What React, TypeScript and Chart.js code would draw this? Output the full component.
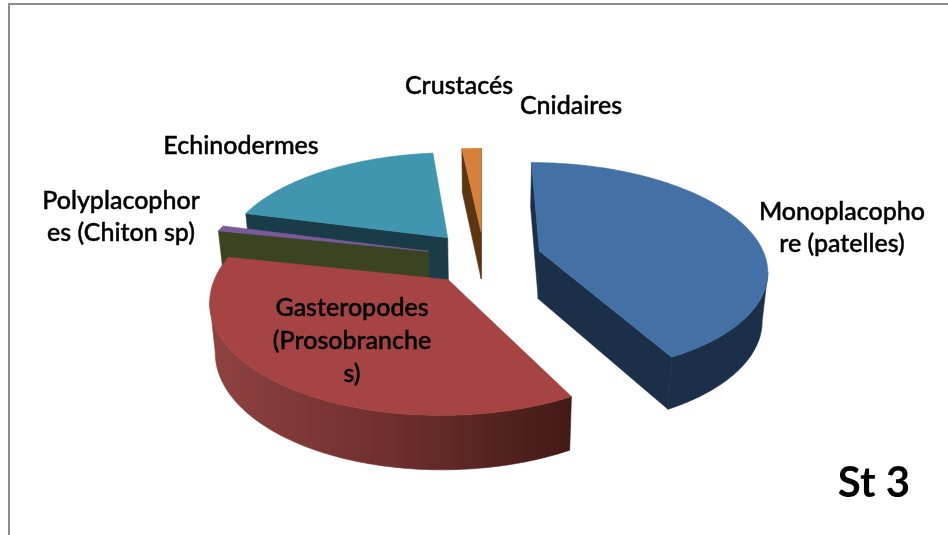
import React, { useEffect, useRef } from "react";
import { Chart, registerables } from "chart.js";

Chart.register(...registerables);

const categories = ["Monoplacophore (patelles)", "Gasteropodes (Prosobranches)", "Polyplacophores (Chiton sp)", "Echinodermes", "Crustacés", "Cnidaires"];
const values = [42.2, 36.1, 0.83, 19.2, 1.67, 0];
const topColors = ["#4371a5", "#a54442", "#7b5a9c", "#3f96ae", "#d6813b", "#d6813b"];
const wallColors = ["#1b2f48", "#a54442", "#3a4420", "#1a3b48", "#5c3613", "#5c3613"];
const labelLines = [
  ["Monoplacopho", "re (patelles)"],
  ["Gasteropodes", "(Prosobranche", "s)"],
  ["Polyplacophor", "es (Chiton sp)"],
  ["Echinodermes"],
  ["Crustacés"],
  ["Cnidaires"],
];
const stationTitle = "St 3";

const labelAnchors = [
  [842, 212],
  [352, 308],
  [121, 201],
  [241, 146],
  [459, 86],
  [571, 106],
];
const LINE_GAP = [32, 33, 32, 0, 0, 0];
const RADIUS = 226;
const TILT = 0.465;
const PERSP = 0.165;
const EXPLODE = 0.255;
const BOTTOM_SHRINK = 0.98;
const FONT = "Lato, sans-serif";

const pie3d = {
  id: "pie3d",
  beforeDraw(chart: any) {
    const { ctx, width, height } = chart;
    ctx.save();
    ctx.fillStyle = "#ffffff";
    ctx.fillRect(0, 0, width, height);
    ctx.fillStyle = "#8c8c8c";
    ctx.fillRect(8, 3, width - 8, 2);
    ctx.fillRect(8, 3, 2, height - 3);
    ctx.restore();
  },
  beforeDatasetsDraw(chart: any) {
    const { ctx } = chart;
    const arcs: any[] = chart.getDatasetMeta(0).data;
    const project = (arc: any, u: number, v: number) => {
      const s = 1 / (1 - PERSP * v);
      return { x: arc.x + arc.outerRadius * u * s, y: arc.y + arc.outerRadius * TILT * v * s, s };
    };
    const drop = (arc: any, p: any) => ({
      x: arc.x + (p.x - arc.x) * BOTTOM_SHRINK,
      y: p.y + 22 + 26 * p.s,
    });
    const poly = (pts: any[], fill: any) => {
      ctx.beginPath();
      pts.forEach((p, i) => (i ? ctx.lineTo(p.x, p.y) : ctx.moveTo(p.x, p.y)));
      ctx.closePath();
      ctx.fillStyle = fill;
      ctx.strokeStyle = fill;
      ctx.lineWidth = 0.6;
      ctx.fill();
      ctx.stroke();
    };
    const order = arcs
      .map((arc, i) => ({ arc, i }))
      .filter((o) => o.arc.endAngle - o.arc.startAngle > 0)
      .sort((a, b) => {
        const mid = (o: any) => Math.sin((o.arc.startAngle + o.arc.endAngle) / 2);
        return mid(a) - mid(b);
      });
    order.forEach(({ arc, i }) => {
      const mid = (arc.startAngle + arc.endAngle) / 2;
      const u0 = EXPLODE * Math.cos(mid);
      const v0 = EXPLODE * Math.sin(mid);
      const apex = project(arc, u0, v0);
      const rim: any[] = [];
      const n = Math.max(2, Math.ceil((arc.endAngle - arc.startAngle) * 60));
      for (let k = 0; k <= n; k++) {
        const a = arc.startAngle + ((arc.endAngle - arc.startAngle) * k) / n;
        rim.push(project(arc, u0 + Math.cos(a), v0 + Math.sin(a)));
      }
      const first = rim[0];
      const last = rim[rim.length - 1];
      const wall = wallColors[i];
      if (first.x < apex.x) poly([apex, first, drop(arc, first), drop(arc, apex)], wall);
      if (last.x > apex.x) poly([apex, last, drop(arc, last), drop(arc, apex)], wall);
      // outer wall: one polygon per run of rim points that face the viewer
      let fill: any = wall;
      if (i === 1) {
        const g = ctx.createLinearGradient(205, 0, 570, 0);
        g.addColorStop(0, "#8f4341");
        g.addColorStop(0.5, "#6f2f2d");
        g.addColorStop(1, "#431a17");
        fill = g;
      }
      let run: any[] = [];
      const flush = () => {
        if (run.length > 1) poly([...run, ...run.map((p) => drop(arc, p)).reverse()], fill);
        run = [];
      };
      for (let k = 0; k < rim.length - 1; k++) {
        if (rim[k + 1].x < rim[k].x) {
          if (!run.length) run.push(rim[k]);
          run.push(rim[k + 1]);
        } else flush();
      }
      flush();
      poly([apex, ...rim], arc.options.backgroundColor);
    });
    return false;
  },
  afterDraw(chart: any) {
    const { ctx } = chart;
    ctx.save();
    ctx.fillStyle = "#000000";
    ctx.strokeStyle = "#000000";
    ctx.lineWidth = 0.45;
    ctx.textAlign = "center";
    ctx.textBaseline = "middle";
    ctx.font = `500 25px ${FONT}`;
    labelLines.forEach((lines, i) => {
      lines.forEach((line, j) => {
        const y = labelAnchors[i][1] + j * LINE_GAP[i];
        ctx.fillText(line, labelAnchors[i][0], y);
        ctx.strokeText(line, labelAnchors[i][0], y);
      });
    });
    ctx.font = `700 42px ${FONT}`;
    ctx.fillText(stationTitle, 874, 483);
    ctx.restore();
  },
};

export default function App() {
  const ref = useRef<HTMLCanvasElement | null>(null);
  useEffect(() => {
    const chart = new Chart(ref.current as HTMLCanvasElement, {
      type: "pie",
      data: {
        labels: categories,
        datasets: [{ data: values, backgroundColor: topColors, borderWidth: 0 }],
      },
      options: {
        animation: false,
        responsive: false,
        radius: RADIUS,
        layout: { padding: { left: 20, bottom: 20 } },
        plugins: { legend: { display: false }, tooltip: { enabled: false }, title: { display: false } },
      } as any,
      plugins: [pie3d as any],
    });
    return () => chart.destroy();
  }, []);
  return (
    <div style={{ position: "fixed", left: 0, top: 0, width: 948, height: 535 }}>
      <canvas ref={ref} width={948} height={535} style={{ display: "block" }} />
    </div>
  );
}
